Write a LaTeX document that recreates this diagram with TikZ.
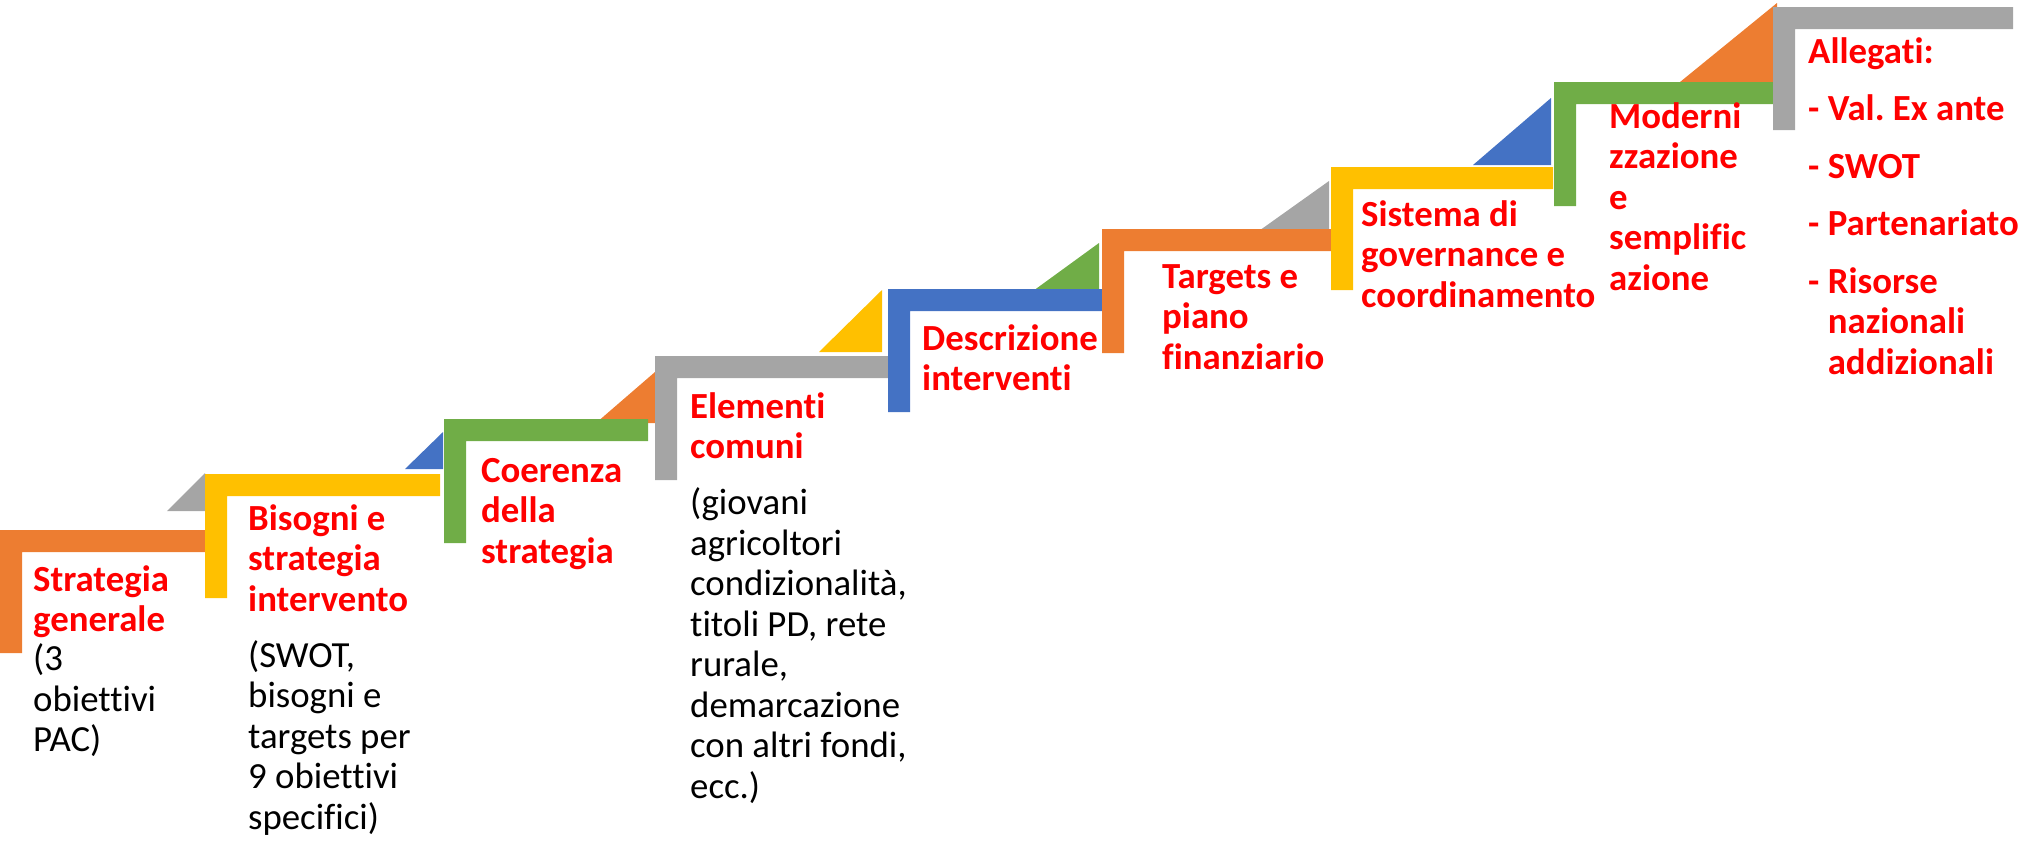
\documentclass[tikz,border=0pt]{standalone}
\usepackage{fontspec}
\setmainfont{Carlito}[Ligatures=NoCommon]
\frenchspacing
\usetikzlibrary{positioning}
\definecolor{accOrange}{HTML}{ED7D31}
\definecolor{accYellow}{HTML}{FFC000}
\definecolor{accGreen}{HTML}{70AD47}
\definecolor{accGray}{HTML}{A5A5A5}
\definecolor{accBlue}{HTML}{4472C4}
\definecolor{titleRed}{HTML}{FF0000}
\tikzset{
  stepTitle/.style={anchor=north west,inner sep=0pt,align=left,text=titleRed,
    font=\fontsize{36.8}{40.5}\selectfont\bfseries,
    execute at begin node=\strut,execute at end node=\strut},
  stepText/.style={stepTitle,text=black,font=\fontsize{36.8}{40.5}\selectfont}
}

\begin{document}
\begin{tikzpicture}[x=1pt,y=-1pt]
  % limits
  \def\bw{22}    % bar width of a step
  \useasboundingbox (0,0) rectangle (2033,844);

  % help functions

        % Triangle resting on a step: colour, left, right, top, bottom
  \def\stepTri(#1,#2,#3,#4,#5){
    \fill[#1] (#2,#5) -- (#3,#5) -- (#3,#4) -- cycle;}
        % L-shaped step: colour, left, top, right, bottom
  \def\stepUp(#1,#2,#3,#4,#5){
    \fill[#1] (#2,#3) -- (#4,#3) -- (#4,#3+\bw) -- (#2+\bw,#3+\bw)
      -- (#2+\bw,#5) -- (#2,#5) -- cycle;}

  % TRIANGLES
  \foreach \c/\l/\r/\t/\b in {accGray/167/205/473/511, accBlue/405/443/432/469,
      accOrange/596/655/372/423, accYellow/819/882/290/352, accGreen/1033/1099/243/291,
      accGray/1256/1329/181/233, accBlue/1473/1551/98/165, accOrange/1680/1777/3/82}{
    \stepTri(\c,\l,\r,\t,\b)
  }

  % STEPS
  \foreach \c/\l/\t/\r/\b in {accOrange/0/530/205/653, accYellow/205/474/440/598,
      accGreen/444/419/648/543, accGray/655/356/888/480, accBlue/888/289/1102/412,
      accOrange/1102/229/1332/353, accYellow/1331/167/1553/290,
      accGreen/1554/82/1773/206, accGray/1773/7/2013/130}{
    \stepUp(\c,\l,\t,\r,\b)
  }

  % TEXTS
    \node[stepTitle] (t1) at (33,565) {Strategia\\generale};
    \node[stepText,below right=0pt and 0pt of t1.south west] (d1) {(3\\obiettivi\\PAC)};

    \node[stepTitle] (t2) at (248,504) {Bisogni e\\strategia\\intervento};
    \node[stepText,below right=17pt and 0pt of t2.south west] (d2)
      {(SWOT,\\bisogni e\\targets per\\9 obiettivi\\specifici)};

    \node[stepTitle] (t3) at (481,458) {Coerenza\\della\\strategia};

    \node[stepTitle] (t4) at (690,392) {Elementi\\comuni};
    \node[stepText,below right=17pt and 0pt of t4.south west] (d4)
      {(giovani\\agricoltori\\condizionalità,\\titoli PD, rete\\rurale,\\demarcazione\\con altri fondi,\\ecc.)};

    \node[stepTitle] (t5) at (922,324) {Descrizione\\interventi};

    \node[stepTitle] (t6) at (1162,264) {Targets e\\piano\\finanziario};

    \node[stepTitle] (t7) at (1361,200) {Sistema di\\governance e\\coordinamento};

    \node[stepTitle] (t8) at (1609,102) {Moderni\\zzazione\\e\\semplific\\azione};

    \node[stepTitle] (t9) at (1808,37) {Allegati:\\[17pt]- Val. Ex ante\\[17pt]- SWOT\\[17pt]- Partenariato\\[17pt]- Risorse\\\hphantom{- }nazionali\\\hphantom{- }addizionali};

\end{tikzpicture}
\end{document}
